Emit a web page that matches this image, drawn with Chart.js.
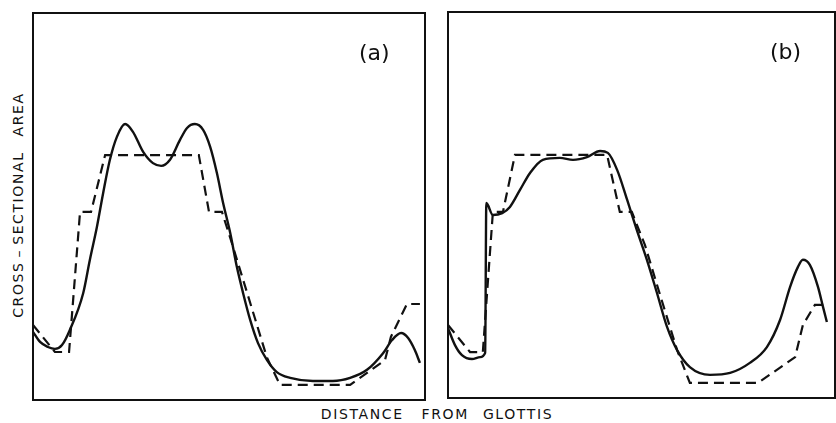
<!DOCTYPE html>
<html>
<head>
<meta charset="utf-8">
<script src="https://cdn.jsdelivr.net/npm/chart.js@4"></script>
<style>
  html, body { margin: 0; padding: 0; background: #fff; }
  body { width: 836px; height: 423px; position: relative; overflow: hidden; font-family: "DejaVu Sans", sans-serif; color: #111; }
  .pane { position: absolute; }
  .lbl { position: absolute; font-size: 22px; color: #111; white-space: nowrap; }
  .t { position: absolute; font-size: 14px; letter-spacing: 1.6px; white-space: nowrap; }
  .t span { display: inline-block; }
  #ytitle { left: 18px; top: 205px; transform: translate(-50%, -50%) rotate(-90deg); }
  #xtitle { left: 437px; top: 414px; transform: translate(-50%, -50%); }
</style>
</head>
<body>
<div class="pane" style="left:31px; top:11px; width:396px; height:391px;"><canvas id="ca"></canvas></div>
<div class="pane" style="left:446px; top:10px; width:391px; height:390px;"><canvas id="cb"></canvas></div>
<div class="lbl" style="left:359px; top:40px;">(a)</div>
<div class="lbl" style="left:770px; top:39px;">(b)</div>
<div id="ytitle" class="t"><span style="margin-right:4px">CROSS</span><span style="margin-right:4px">–</span><span style="margin-right:15px">SECTIONAL</span><span>AREA</span></div>
<div id="xtitle" class="t"><span style="margin-right:18px">DISTANCE</span><span style="margin-right:14px">FROM</span><span>GLOTTIS</span></div>
<script>
// Distance from glottis (0-100, relative) and cross-sectional area (0-100, relative)
const solidAX = [0, 1.8, 3.8, 5.6, 7.4, 9.4, 12.8, 14.5, 16.3, 17.9, 19.6, 21.4, 23.5, 25.5, 28.1, 30.6, 32.7, 34.9, 37.5, 39.3, 41.3, 43.4, 45.2, 46.9, 48.5, 50.3, 52.0, 53.6, 55.4, 57.4, 59.7, 62.2, 65.6, 71.4, 76.5, 80.9, 85.2, 89.3, 91.6, 93.9, 95.7, 97.4, 98.7];
const solidAY = [17.6, 15.0, 13.7, 13.2, 14.2, 18.1, 27.6, 36.2, 44.7, 53.5, 62.0, 68.0, 71.3, 69.3, 64.1, 61.2, 60.5, 62.0, 67.2, 70.3, 71.3, 69.8, 65.4, 58.7, 50.9, 43.2, 34.4, 27.6, 20.7, 14.7, 10.3, 7.2, 5.7, 4.9, 4.9, 5.7, 7.8, 12.1, 15.5, 17.3, 16.0, 12.9, 9.6];
const dashAX = [0, 5.6, 9.2, 12.0, 14.8, 18.4, 42.3, 44.9, 48.2, 50.5, 54.8, 59.7, 63.0, 80.9, 89.8, 91.3, 95.4, 98.7];
const dashAY = [19.4, 12.4, 12.4, 48.6, 48.6, 63.3, 63.3, 48.6, 48.6, 41.3, 27.1, 10.9, 3.9, 3.9, 10.3, 16.3, 24.8, 24.8];

const solidBX = [0, 1.8, 3.6, 6.2, 8.3, 9.6, 9.9, 11.6, 14.0, 16.0, 18.6, 21.2, 24.5, 28.9, 32.3, 35.9, 39.3, 41.3, 43.7, 46.3, 48.8, 51.4, 54.0, 56.6, 59.2, 62.5, 67.7, 72.9, 78.0, 82.4, 85.8, 88.4, 90.4, 91.7, 93.5, 95.6, 96.9, 97.9];
const solidBY = [18.1, 13.7, 11.1, 10.1, 10.6, 11.7, 50.5, 47.4, 47.9, 49.5, 53.9, 58.3, 61.7, 62.2, 61.7, 62.4, 64.0, 63.5, 59.1, 51.3, 43.5, 35.8, 27.2, 18.4, 12.4, 8.0, 6.0, 6.5, 9.1, 13.2, 20.2, 28.8, 33.9, 35.8, 34.5, 28.8, 23.6, 19.7];
const dashBX = [0, 5.7, 9.0, 11.6, 14.2, 17.3, 41.1, 44.4, 47.5, 50.9, 54.8, 59.2, 62.5, 80.1, 89.7, 91.7, 94.8, 98.2];
const dashBY = [18.9, 11.9, 11.9, 48.2, 48.2, 63.0, 63.0, 48.2, 48.2, 39.6, 26.7, 12.4, 3.9, 3.9, 10.6, 18.9, 24.1, 24.1];

const pts = (xs, ys) => xs.map((x, i) => ({ x: x, y: ys[i] }));

const frame = {
  id: 'frame',
  afterDraw(chart) {
    const a = chart.chartArea, c = chart.ctx;
    c.save();
    c.strokeStyle = '#111';
    c.lineWidth = 2;
    c.strokeRect(a.left, a.top, a.right - a.left, a.bottom - a.top);
    c.restore();
  }
};

function make(id, sx, sy, dx, dy) {
  new Chart(document.getElementById(id), {
    type: 'line',
    data: {
      datasets: [
        { label: 'area function', data: pts(sx, sy), borderColor: '#111', borderWidth: 2.4, pointRadius: 0, cubicInterpolationMode: 'monotone', fill: false },
        { label: 'stepped', data: pts(dx, dy), borderColor: '#111', borderWidth: 2.2, borderDash: [10, 6], pointRadius: 0, tension: 0, fill: false }
      ]
    },
    options: {
      responsive: true,
      maintainAspectRatio: false,
      animation: false,
      layout: { padding: 2 },
      plugins: { legend: { display: false }, tooltip: { enabled: false } },
      scales: {
        x: { type: 'linear', min: 0, max: 100, display: false },
        y: { type: 'linear', min: 0, max: 100, display: false }
      }
    },
    plugins: [frame]
  });
}
make('ca', solidAX, solidAY, dashAX, dashAY);
make('cb', solidBX, solidBY, dashBX, dashBY);
</script>
</body>
</html>
